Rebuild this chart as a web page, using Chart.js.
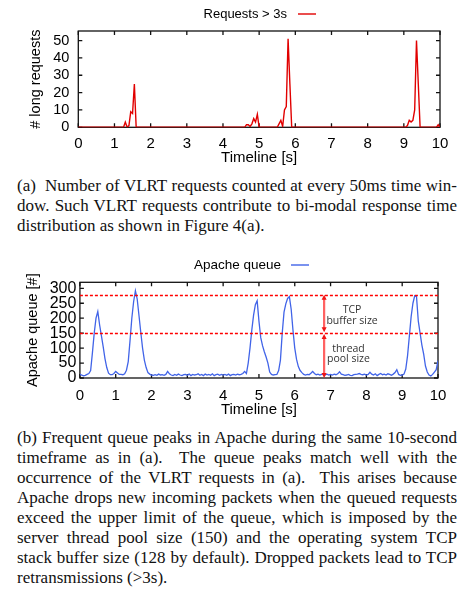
<!DOCTYPE html>
<html>
<head>
<meta charset="utf-8">
<script src="https://cdn.jsdelivr.net/npm/chart.js@4.4.0/dist/chart.umd.min.js"></script>
<style>
    html, body { margin: 0; padding: 0; background: #fff; }
    body { width: 475px; height: 596px; position: relative; overflow: hidden; }
    .chart-box { position: absolute; left: 0; width: 475px; height: 170px; }
    #box-a { top: 0; }
    #box-b { top: 250px; }
    .caption {
        position: absolute; left: 17px; width: 440px;
        font-family: "Liberation Serif", "Times New Roman", serif;
        font-size: 17px; line-height: 20px; color: #111;
    }
    .caption div { text-align: justify; text-align-last: justify; }
    .caption div.last { text-align: left; text-align-last: left; }
    #cap-a { top: 176px; }
    #cap-b { top: 428px; }
</style>
</head>
<body>

<div class="chart-box" id="box-a"><canvas id="chart-a" width="475" height="170"></canvas></div>

<div class="caption" id="cap-a">
    <div>(a)&nbsp; Number of VLRT requests counted at every 50ms time win-</div>
    <div>dow. Such VLRT requests contribute to bi-modal response time</div>
    <div class="last">distribution as shown in Figure 4(a).</div>
</div>

<div class="chart-box" id="box-b"><canvas id="chart-b" width="475" height="170"></canvas></div>

<div class="caption" id="cap-b">
    <div>(b) Frequent queue peaks in Apache during the same 10-second</div>
    <div>timeframe as in (a).&nbsp; The queue peaks match well with the</div>
    <div>occurrence of the VLRT requests in (a).&nbsp; This arises because</div>
    <div>Apache drops new incoming packets when the queued requests</div>
    <div>exceed the upper limit of the queue, which is imposed by the</div>
    <div>server thread pool size (150) and the operating system TCP</div>
    <div>stack buffer size (128 by default). Dropped packets lead to TCP</div>
    <div class="last">retransmissions (&gt;3s).</div>
</div>

<script>
// ---- data ----
const xTicks = [0, 1, 2, 3, 4, 5, 6, 7, 8, 9, 10];
const reqTicks = [0, 10, 20, 30, 40, 50];
const queueTicks = [0, 50, 100, 150, 200, 250, 300];

// (a) requests > 3s per 50ms window (only the non-zero stretches + their edges)
const reqTimes = [0, 1.25, 1.30, 1.35, 1.40, 1.45, 1.50, 1.55, 1.60,
    4.60, 4.65, 4.70, 4.75, 4.80, 4.85, 4.90, 4.95, 5.00,
    5.50, 5.55, 5.60, 5.65, 5.70, 5.75, 5.80, 5.85, 5.90,
    9.05, 9.10, 9.15, 9.20, 9.25, 9.30, 9.35, 9.40, 9.45,
    9.90, 9.95, 10.00];
const reqCounts = [0, 0, 3, 0, 1, 9, 8, 25, 0,
    0, 1.5, 1.5, 0.5, 2, 5, 3, 7.5, 0,
    0, 2, 4, 0.5, 10, 12, 51, 25, 0,
    0, 1, 4, 3, 4, 10, 50, 25, 0,
    0, 1.5, 0];

// (b) Apache queue length, one sample every 50ms from 0 to 10s
const queueStep = 0.05;
const queueValues = [
    12, 10, 7, 9, 12, 15, 25, 85, 150, 200, 222, 178, 142, 105, 65, 35, 16, 11, 11, 15,
    22, 17, 12, 12, 11, 14, 26, 55, 125, 200, 255, 292, 264, 209, 153, 100, 60, 35, 18, 13,
    10, 9, 11, 9, 13, 10, 11, 9, 12, 22, 14, 10, 8, 12, 9, 13, 10, 8, 11, 12,
    9, 13, 8, 12, 10, 11, 14, 9, 12, 8, 13, 10, 12, 9, 14, 8, 11, 13, 9, 12,
    10, 12, 9, 13, 8, 11, 12, 10, 13, 11, 12, 15, 22, 15, 50, 100, 160, 210, 245, 258,
    190, 135, 108, 88, 70, 50, 20, 12, 10, 11, 12, 25, 60, 150, 220, 248, 266, 272, 230, 160,
    100, 62, 38, 25, 18, 12, 10, 12, 11, 16, 22, 15, 11, 13, 10, 12, 14, 11, 13, 10,
    12, 10, 13, 11, 14, 21, 13, 11, 9, 10, 12, 9, 8, 11, 12, 13, 15, 12, 11, 13,
    10, 12, 19, 13, 10, 14, 8, 12, 15, 11, 13, 10, 14, 12, 9, 13, 18, 28, 12, 9,
    10, 13, 30, 75, 140, 205, 250, 275, 272, 190, 150, 110, 80, 40, 20, 10, 7, 12, 20, 28,
    58
];

// queue limits: thread pool (150) + TCP backlog (128)
const poolLimit = 150;
const tcpLimit = 278;
const arrowTime = 6.82;

const SANS = '"Liberation Sans", Arial, Helvetica, sans-serif';
const RED = 'rgb(225, 0, 0)';
const BLUE = 'rgb(65, 100, 232)';

/**
 * Frame around the plot with gnuplot-style inward ticks on all four sides
 */
const framePlugin = {
    id: 'frame',
    beforeDatasetsDraw(chart, args, opts) {
        const { ctx, chartArea: a, scales: { x, y } } = chart;
        const len = 4;
        ctx.save();
        ctx.strokeStyle = '#111';
        ctx.lineWidth = 1.3;
        ctx.strokeRect(a.left, a.top, a.width, a.height);
        ctx.beginPath();
        opts.xTicks.forEach(v => {
            const px = x.getPixelForValue(v);
            ctx.moveTo(px, a.bottom); ctx.lineTo(px, a.bottom - len);
            ctx.moveTo(px, a.top); ctx.lineTo(px, a.top + len);
        });
        opts.yTicks.forEach(v => {
            const py = y.getPixelForValue(v);
            ctx.moveTo(a.left, py); ctx.lineTo(a.left + len, py);
            ctx.moveTo(a.right, py); ctx.lineTo(a.right - len, py);
        });
        ctx.stroke();
        ctx.restore();
    }
};

/**
 * gnuplot style key: label text followed by a short line sample
 */
const keyPlugin = {
    id: 'key',
    afterDraw(chart, args, opts) {
        const { ctx } = chart;
        const ds = chart.data.datasets[0];
        ctx.save();
        ctx.font = `${opts.size}px ${SANS}`;
        ctx.fillStyle = '#000';
        ctx.textAlign = 'right';
        ctx.textBaseline = 'middle';
        ctx.fillText(ds.label, opts.textRight, opts.y);
        ctx.strokeStyle = ds.borderColor;
        ctx.lineWidth = 1.4;
        ctx.beginPath();
        ctx.moveTo(opts.lineFrom, opts.y);
        ctx.lineTo(opts.lineTo, opts.y);
        ctx.stroke();
        ctx.restore();
    }
};

/**
 * Queue limit lines, arrows and their labels for the Apache chart
 */
const limitsPlugin = {
    id: 'limits',
    afterDatasetsDraw(chart) {
        const { ctx, chartArea: a, scales: { x, y } } = chart;
        ctx.save();

        // dashed limit lines
        ctx.strokeStyle = '#ff0000';
        ctx.lineWidth = 1.3;
        ctx.setLineDash([3, 2]);
        [poolLimit, tcpLimit].forEach(v => {
            const py = Math.round(y.getPixelForValue(v)) + 0.5;
            ctx.beginPath();
            ctx.moveTo(a.left, py);
            ctx.lineTo(a.right, py);
            ctx.stroke();
        });
        ctx.setLineDash([]);

        // double-headed arrows
        const ax = x.getPixelForValue(arrowTime);
        const arrow = (from, to) => {
            const y1 = y.getPixelForValue(from);
            const y2 = y.getPixelForValue(to);
            ctx.strokeStyle = 'rgba(255, 70, 70, 0.85)';
            ctx.fillStyle = 'rgb(240, 20, 20)';
            ctx.lineWidth = 2.2;
            ctx.beginPath();
            ctx.moveTo(ax, y1 + 3);
            ctx.lineTo(ax, y2 - 3);
            ctx.stroke();
            const head = (py, dir) => {
                ctx.beginPath();
                ctx.moveTo(ax, py);
                ctx.lineTo(ax - 2.5, py + dir * 5);
                ctx.lineTo(ax + 2.5, py + dir * 5);
                ctx.closePath();
                ctx.fill();
            };
            head(y1, 1);
            head(y2, -1);
        };
        arrow(tcpLimit, poolLimit + 3);
        arrow(poolLimit - 3, 0);

        // labels
        ctx.fillStyle = '#333';
        ctx.font = '10.5px "Open Sans", "Noto Sans", sans-serif';
        ctx.textAlign = 'center';
        ctx.textBaseline = 'middle';
        ctx.fillText('TCP', x.getPixelForValue(7.6), y.getPixelForValue(227));
        ctx.fillText('buffer size', x.getPixelForValue(7.6), y.getPixelForValue(190));
        ctx.fillText('thread', x.getPixelForValue(7.5), y.getPixelForValue(97));
        ctx.fillText('pool size', x.getPixelForValue(7.5), y.getPixelForValue(63));
        ctx.restore();
    }
};

/**
 * Shared options for both gnuplot-like panels
 * @param {Object} cfg - per panel geometry and axis settings
 */
function panelOptions(cfg) {
    return {
        responsive: false,
        animation: false,
        layout: { padding: { left: 0, right: cfg.padRight, top: cfg.padTop, bottom: 0 } },
        plugins: {
            legend: { display: false },
            tooltip: { enabled: false },
            frame: { xTicks: xTicks, yTicks: cfg.yTicks },
            key: cfg.key
        },
        scales: {
            x: {
                type: 'linear',
                min: 0,
                max: 10,
                afterBuildTicks: s => { s.ticks = xTicks.map(v => ({ value: v })); },
                afterFit: s => { s.height = cfg.xHeight; },
                grid: { display: false, drawTicks: false },
                border: { display: false },
                ticks: {
                    autoSkip: false, maxRotation: 0, padding: cfg.xTickPad,
                    color: '#000', font: { family: SANS, size: 15 }
                },
                title: {
                    display: true, text: 'Timeline [s]', color: '#000',
                    font: { family: SANS, size: 15 },
                    padding: { top: 0, bottom: cfg.xTitlePad }
                }
            },
            y: {
                min: 0,
                max: cfg.yMax,
                afterBuildTicks: s => { s.ticks = cfg.yTicks.map(v => ({ value: v })); },
                afterFit: s => { s.width = cfg.yWidth; },
                grid: { display: false, drawTicks: false },
                border: { display: false },
                ticks: {
                    autoSkip: false, padding: cfg.yTickPad,
                    color: '#000', font: { family: SANS, size: cfg.yTickSize }
                },
                title: {
                    display: true, text: cfg.yTitle, color: '#000',
                    font: { family: SANS, size: 14.5 },
                    padding: { top: cfg.yTitlePad, bottom: 0 }
                }
            }
        }
    };
}

new Chart(document.getElementById('chart-a'), {
    type: 'line',
    data: {
        datasets: [{
            label: 'Requests > 3s',
            data: reqTimes.map((t, i) => ({ x: t, y: reqCounts[i] })),
            borderColor: RED,
            borderWidth: 1.4,
            pointRadius: 0,
            tension: 0
        }]
    },
    options: panelOptions({
        padRight: 35, padTop: 31, xHeight: 42.7, yWidth: 78.3,
        yMax: 55.5, yTicks: reqTicks, yTitle: '# long requests',
        xTickPad: 8, xTitlePad: 3, yTickPad: 9, yTickSize: 14.5, yTitlePad: 27,
        key: { size: 13, textRight: 287, y: 14, lineFrom: 298, lineTo: 316 }
    }),
    plugins: [framePlugin, keyPlugin]
});

new Chart(document.getElementById('chart-b'), {
    type: 'line',
    data: {
        datasets: [{
            label: 'Apache queue',
            data: queueValues.map((v, i) => ({ x: i * queueStep, y: v })),
            borderColor: BLUE,
            borderWidth: 1.3,
            pointRadius: 0,
            tension: 0
        }]
    },
    options: panelOptions({
        padRight: 37, padTop: 32.3, xHeight: 42, yWidth: 79.9,
        yMax: 320, yTicks: queueTicks, yTitle: 'Apache queue [#]',
        xTickPad: 9, xTitlePad: 1, yTickPad: 3.5, yTickSize: 16, yTitlePad: 24,
        key: { size: 13.5, textRight: 281, y: 15, lineFrom: 291, lineTo: 309 }
    }),
    plugins: [framePlugin, keyPlugin, limitsPlugin]
});
</script>
</body>
</html>
